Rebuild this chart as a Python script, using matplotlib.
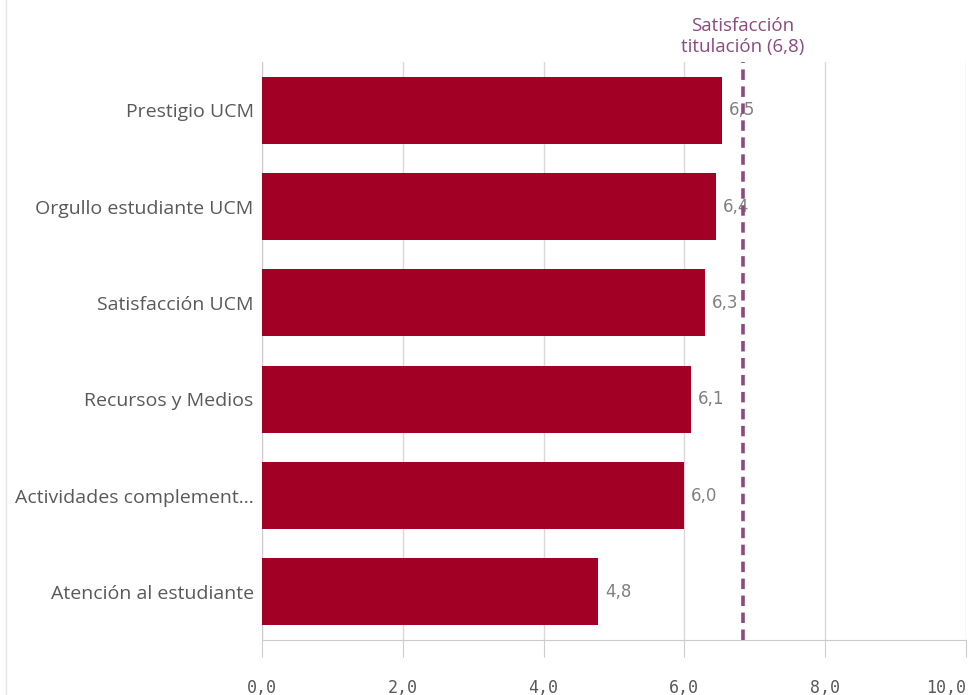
import matplotlib.pyplot as plt

categorias = ['Prestigio UCM', 'Orgullo estudiante UCM', 'Satisfacción UCM',
              'Recursos y Medios', 'Actividades complement...', 'Atención al estudiante']
valores = [6.53, 6.45, 6.29, 6.09, 5.99, 4.77]
etiquetas = ['6,5', '6,4', '6,3', '6,1', '6,0', '4,8']
ref_valor = 6.83
ref_texto = 'Satisfacción\ntitulación (6,8)'
ticks = [0, 2, 4, 6, 8, 10]
tick_labels = ['0,0', '2,0', '4,0', '6,0', '8,0', '10,0']

fig = plt.figure(figsize=(9.71, 6.95), dpi=100)
ax = fig.add_axes([0.2698, 0.0791, 0.725, 0.8317])

pos = list(range(len(categorias)))
ax.barh(pos, valores, height=0.695, color='#a20025', zorder=3)
for p, v, t in zip(pos, valores, etiquetas):
    ax.text(v + 0.1, p, t, va='center', ha='left', fontsize=12,
            family='DejaVu Sans', color='#808080', zorder=4)

ax.axvline(ref_valor, color='#8b4a80', lw=2.6, ls=(0, (2.9, 1.8)), zorder=5)
ax.text(ref_valor, 1.01, ref_texto, ha='center', va='bottom', fontsize=13.5,
        family='Open Sans', color='#8b4a80', linespacing=1.25,
        transform=ax.get_xaxis_transform())

ax.set_xlim(0, 10)
ax.set_ylim(5.5, -0.5)
ax.set_xticks(ticks)
ax.set_xticklabels(tick_labels, family='DejaVu Sans Mono', fontsize=12, color='#595959')
ax.get_xticklabels()[-1].set_horizontalalignment('right')
ax.set_yticks(pos)
ax.set_yticklabels(categorias, family='Open Sans', fontsize=14, color='#595959')
ax.tick_params(axis='y', length=0, pad=6)
ax.tick_params(axis='x', length=12, color='#cccccc', pad=16)
ax.grid(axis='x', color='#d9d9d9', lw=1, zorder=0)
for s in ['top', 'right']:
    ax.spines[s].set_visible(False)
ax.spines['left'].set_color('#cccccc')
ax.spines['bottom'].set_color('#cccccc')

# borde izquierdo tenue del panel
fig.add_artist(plt.Line2D([0.006, 0.006], [0, 1], color='#e6e6e6', lw=1))

fig.savefig('out.png', dpi=100)
